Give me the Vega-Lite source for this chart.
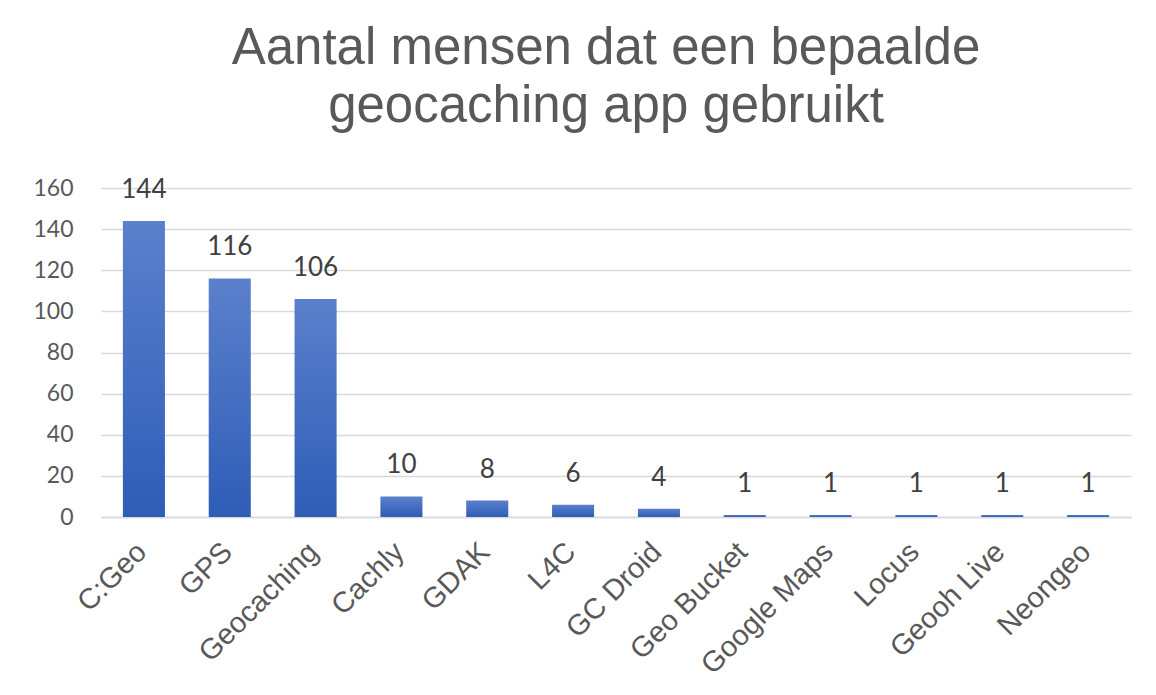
{
  "$schema": "https://vega.github.io/schema/vega-lite/v6.json",
  "autosize": {"type": "none"},
  "width": 1030,
  "height": 329,
  "padding": {"left": 101, "top": 188, "right": 25, "bottom": 178},
  "background": "white",
  "title": {
    "text": ["Aantal mensen dat een bepaalde", "geocaching app gebruikt"],
    "font": "Liberation Sans",
    "fontSize": 51,
    "fontWeight": "normal",
    "color": "#595959",
    "lineHeight": 58,
    "anchor": "middle",
    "dx": -10,
    "offset": 44
  },
  "data": {
    "values": [
      {"app": "C:Geo", "aantal": 144},
      {"app": "GPS", "aantal": 116},
      {"app": "Geocaching", "aantal": 106},
      {"app": "Cachly", "aantal": 10},
      {"app": "GDAK", "aantal": 8},
      {"app": "L4C", "aantal": 6},
      {"app": "GC Droid", "aantal": 4},
      {"app": "Geo Bucket", "aantal": 1},
      {"app": "Google Maps", "aantal": 1},
      {"app": "Locus", "aantal": 1},
      {"app": "Geooh Live", "aantal": 1},
      {"app": "Neongeo", "aantal": 1}
    ]
  },
  "encoding": {
    "x": {
      "field": "app",
      "type": "nominal",
      "sort": null,
      "scale": {"paddingInner": 0.51, "paddingOuter": 0.255},
      "axis": {
        "title": null,
        "labelAngle": -45,
        "labelFont": "Liberation Sans",
        "labelFontSize": 29,
        "labelColor": "#595959",
        "labelPadding": 20,
        "labelOffset": -12,
        "ticks": false,
        "domainColor": "#d9d9d9",
        "domainWidth": 1.5
      }
    },
    "y": {
      "field": "aantal",
      "type": "quantitative",
      "scale": {"domain": [0, 160]},
      "axis": {
        "title": null,
        "values": [0, 20, 40, 60, 80, 100, 120, 140, 160],
        "labelFont": "Lato",
        "labelFontSize": 23,
        "labelColor": "#595959",
        "labelPadding": 28,
        "ticks": false,
        "domain": false,
        "gridColor": "#d9d9d9",
        "gridWidth": 1.5
      }
    }
  },
  "layer": [
    {
      "mark": {
        "type": "bar",
        "color": {
          "gradient": "linear",
          "x1": 0, "y1": 0, "x2": 0, "y2": 1,
          "stops": [
            {"offset": 0, "color": "#5b80cc"},
            {"offset": 1, "color": "#2e5db7"}
          ]
        }
      }
    },
    {
      "mark": {
        "type": "text",
        "baseline": "bottom",
        "dy": -18,
        "font": "Lato",
        "fontSize": 26,
        "color": "#404040"
      },
      "encoding": {"text": {"field": "aantal", "type": "quantitative"}}
    }
  ],
  "config": {"view": {"stroke": null}}
}
